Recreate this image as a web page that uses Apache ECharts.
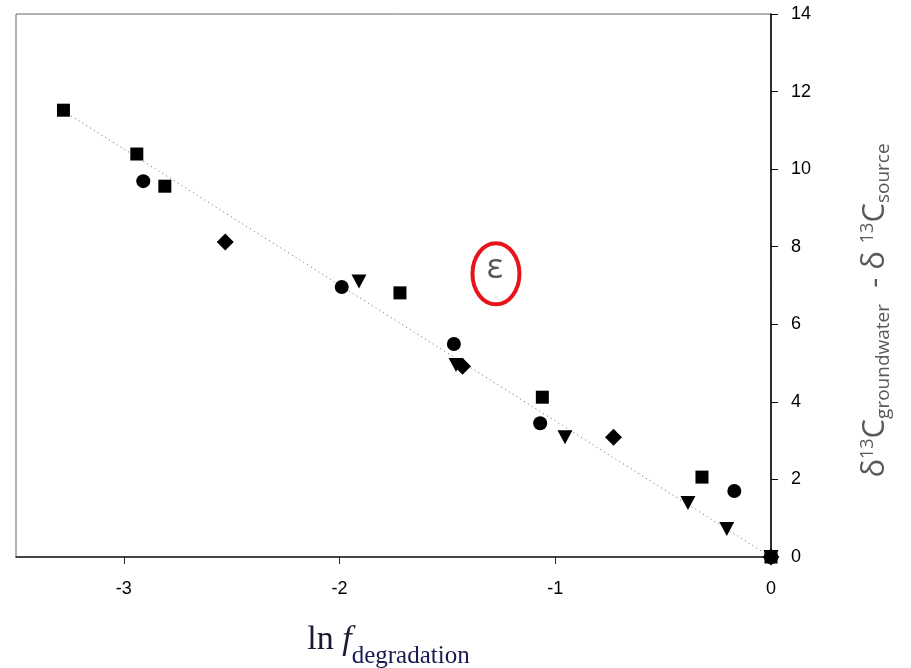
<!DOCTYPE html>
<html>
<head>
<meta charset="utf-8">
<script src="https://cdn.jsdelivr.net/npm/echarts@6/dist/echarts.min.js"></script>
<style>html,body{margin:0;padding:0;background:#fff;}#c{width:911px;height:668px;}</style>
</head>
<body>
<div id="c"></div>
<script>
// ---- data (ln f_degradation, delta13C groundwater - source) ----
const squareX   = [-3.28, -2.94, -2.81, -1.72, -1.06, -0.32, 0];
const squareY   = [11.52, 10.39, 9.56, 6.81, 4.12, 2.06, 0];
const circleX   = [-2.91, -1.99, -1.47, -1.07, -0.17, 0];
const circleY   = [9.69, 6.96, 5.49, 3.45, 1.70, 0];
const triangleX = [-1.91, -1.46, -0.955, -0.385, -0.205, 0];
const triangleY = [7.10, 4.95, 3.09, 1.39, 0.72, 0];
const diamondX  = [-2.53, -1.43, -0.73, 0];
const diamondY  = [8.12, 4.92, 3.09, 0];
const fitX = [-3.28, 0];
const fitY = [11.50, 0];
const xTicks = [-3, -2, -1, 0];
const epsLabel = 'ε';
const epsX = -1.275, epsY = 7.30;

function pairs(xs, ys){ return xs.map((x,i)=>[x, ys[i]]); }

const chart = echarts.init(document.getElementById('c'));
const sym = {color:'#000', opacity:1};
const yc = '#595959';
const option = {
  animation:false,
  backgroundColor:'#fff',
  grid:{left:16, right:140, top:14, bottom:111, show:true, borderColor:'#666', borderWidth:1, outerBoundsMode:'none', containLabel:false},
  xAxis:{
    type:'value', min:-3.5, max:0,
    splitLine:{show:false},
    axisLine:{onZero:false, lineStyle:{color:'#222', width:1.5}},
    axisTick:{show:true, length:7, inside:false, customValues:xTicks, lineStyle:{color:'#222'}},
    axisLabel:{customValues:xTicks, color:'#000', fontFamily:'Liberation Sans', fontSize:18, margin:23},
    name:'{ln|ln }{f|f}{sub|degradation}{gap|}',
    nameLocation:'middle', nameGap:56,
    nameTextStyle:{
      rich:{
        ln:{fontFamily:'Liberation Serif', fontSize:34, color:'#1a1a30', lineHeight:44, verticalAlign:'bottom'},
        f:{fontFamily:'Liberation Serif', fontStyle:'italic', fontSize:34, color:'#1a1a30', lineHeight:44, verticalAlign:'bottom'},
        sub:{fontFamily:'Liberation Serif', fontSize:25, color:'#1a1a50', lineHeight:44, verticalAlign:'bottom', padding:[0,0,-12,0]},
        gap:{width:10}
      }
    }
  },
  yAxis:{
    type:'value', position:'right', min:0, max:14, interval:2,
    splitLine:{show:false},
    axisLine:{show:true, onZero:false, lineStyle:{color:'#000', width:1.5}},
    axisTick:{show:true, length:7, inside:false, lineStyle:{color:'#000'}},
    axisLabel:{color:'#000', fontFamily:'Liberation Sans', fontSize:18, margin:20},
    name:'{m|δ}{sup|13}{m|C}{sub|groundwater}{m|  - δ }{sup|13}{m|C}{sub|source}{gap|}',
    nameLocation:'middle', nameRotate:90, nameGap:84,
    nameTextStyle:{
      rich:{
        m:{fontFamily:'Open Sans', fontSize:31, color:yc, lineHeight:40, verticalAlign:'middle'},
        sup:{fontFamily:'Open Sans', fontSize:18, color:yc, lineHeight:40, verticalAlign:'middle', padding:[0,0,15,0]},
        sub:{fontFamily:'Open Sans', fontSize:19, color:yc, lineHeight:40, verticalAlign:'middle', padding:[17,0,0,0]},
        gap:{width:50}
      }
    }
  },
  series:[
    {type:'line', data:pairs(fitX, fitY), symbol:'none', lineStyle:{color:'#666', width:1, type:[1,3.5]}, silent:true, z:1},
    {type:'scatter', data:pairs(squareX, squareY), symbol:'rect', symbolSize:13, itemStyle:sym, z:3},
    {type:'scatter', data:pairs(circleX, circleY), symbol:'circle', symbolSize:14, itemStyle:sym, z:3},
    {type:'scatter', data:pairs(triangleX, triangleY), symbol:'triangle', symbolRotate:180, symbolSize:[15,14], itemStyle:sym, z:3},
    {type:'scatter', data:pairs(diamondX, diamondY), symbol:'diamond', symbolSize:[17,17], itemStyle:sym, z:3}
  ]
};
chart.setOption(option);
const p = chart.convertToPixel({gridIndex:0}, [epsX, epsY]);
chart.setOption({graphic:[
  {type:'ellipse', shape:{cx:p[0], cy:p[1], rx:23.5, ry:30.5}, style:{fill:null, stroke:'#e8141b', lineWidth:4}, z:10},
  {type:'text', x:p[0]-1, y:p[1]-6, style:{text:epsLabel, fontFamily:'Open Sans', fontSize:34, fill:'#555', align:'center', verticalAlign:'middle'}, z:10}
]});
</script>
</body>
</html>
